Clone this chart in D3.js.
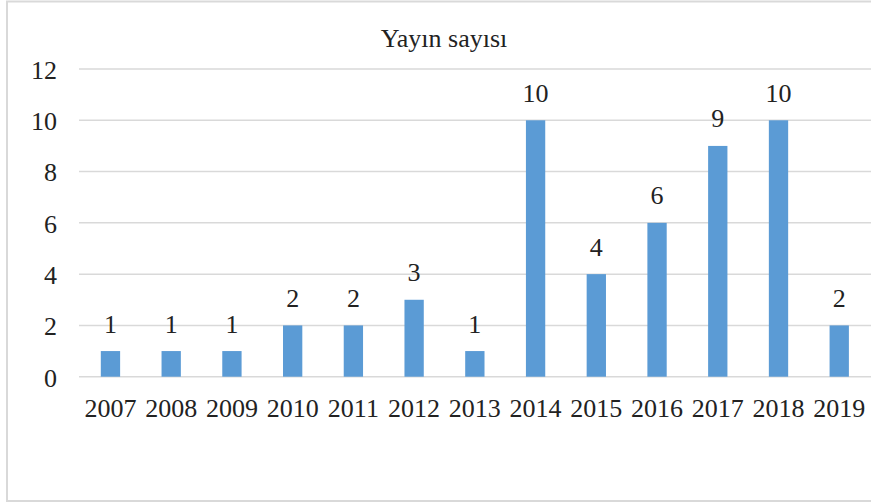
<!DOCTYPE html>
<html><head><meta charset="utf-8">
<script src="https://cdn.jsdelivr.net/npm/d3@7"></script>
<style>body{margin:0;background:#fff}svg{display:block}text{font-family:"Liberation Serif","Times New Roman",serif;fill:#222}</style>
</head><body>
<svg id="c" width="871" height="504"></svg>
<script>
const title = "Yayın sayısı";
const categories = ["2007","2008","2009","2010","2011","2012","2013","2014","2015","2016","2017","2018","2019"];
const values = [1,1,1,2,2,3,1,10,4,6,9,10,2];
const yTicks = [0,2,4,6,8,10,12];

const svg = d3.select("#c");
svg.append("rect").attr("x",7).attr("y",1.5).attr("width",900).attr("height",499.5)
  .attr("fill","#fff").attr("stroke","#d9d9d9").attr("stroke-width",2);

const x = d3.scaleBand().domain(categories).range([80.1, 869.6]).paddingInner(0.682).paddingOuter(0.341);
const y = d3.scaleLinear().domain([0,12]).range([376.7, 69]);

// gridlines
svg.append("g").selectAll("line").data(yTicks).join("line")
  .attr("x1",79).attr("x2",871).attr("y1",d=>y(d)).attr("y2",d=>y(d))
  .attr("stroke","#d9d9d9").attr("stroke-width",1.5);

// y axis labels
const yAxis = d3.axisLeft(y).tickValues(yTicks).tickSize(0).tickPadding(0);
const gy = svg.append("g").attr("transform","translate(57,0)").call(yAxis);
gy.select(".domain").remove();
gy.selectAll("text").attr("font-size",26).attr("font-family","Liberation Serif").attr("fill","#222").attr("dy","0.36em");

// bars
svg.append("g").selectAll("rect").data(values).join("rect")
  .attr("x",(d,i)=>x(categories[i])).attr("width",x.bandwidth())
  .attr("y",d=>y(d)).attr("height",d=>y(0)-y(d)).attr("fill","#5b9bd5");

// data labels
svg.append("g").selectAll("text").data(values).join("text")
  .attr("x",(d,i)=>x(categories[i])+x.bandwidth()/2).attr("y",d=>y(d)-18.5)
  .attr("text-anchor","middle").attr("font-size",26).text(d=>d);

// x axis labels
const xAxis = d3.axisBottom(x).tickSize(0).tickPadding(0);
const gx = svg.append("g").attr("transform","translate(0,417)").call(xAxis);
gx.select(".domain").remove();
gx.selectAll("text").attr("font-size",26).attr("font-family","Liberation Serif").attr("fill","#222").attr("dy",0).attr("y",0);

// title
svg.append("text").attr("x",444).attr("y",47).attr("text-anchor","middle").attr("font-size",26).text(title);
</script>
</body></html>
